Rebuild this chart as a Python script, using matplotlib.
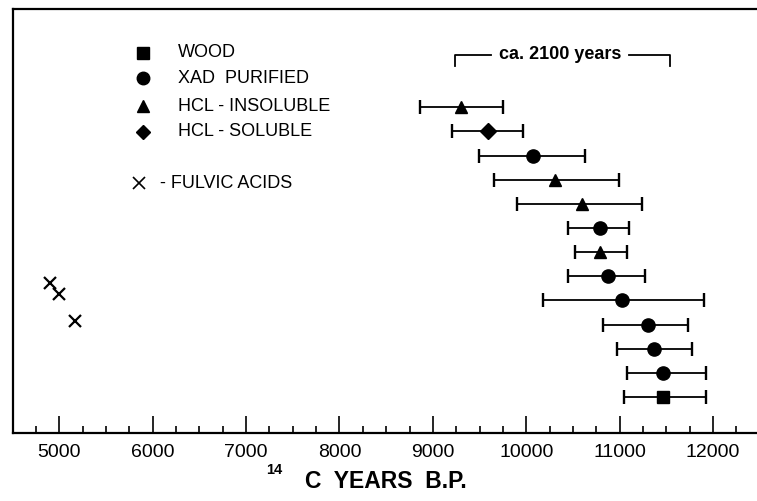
import matplotlib
matplotlib.use("Agg")
import matplotlib.pyplot as plt
from matplotlib.ticker import MultipleLocator

plt.rcParams['font.family'] = ['Liberation Sans', 'DejaVu Sans']

# samples from bottom (row 1) to top (row 13)
rows = list(range(1, 14))
ages = [11460, 11460, 11370, 11300, 11020, 10870, 10790, 10790, 10600, 10310, 10070, 9590, 9300]
age_lo = [11050, 11075, 10975, 10825, 10175, 10450, 10520, 10450, 9900, 9650, 9495, 9200, 8860]
age_hi = [11920, 11920, 11775, 11735, 11905, 11275, 11075, 11105, 11240, 10995, 10630, 9960, 9750]
kinds = ['wood', 'xad', 'xad', 'xad', 'xad', 'xad', 'ins', 'xad', 'ins', 'ins', 'xad', 'sol', 'ins']

# fulvic acids
fulvic_ages = [4900, 5000, 5170]
fulvic_rows = [5.73, 5.25, 4.16]

legend_names = ['WOOD', 'XAD  PURIFIED', 'HCL - INSOLUBLE', 'HCL - SOLUBLE']
legend_kinds = ['wood', 'xad', 'ins', 'sol']
markers = {'wood': ('s', 9), 'xad': ('o', 9.5), 'ins': ('^', 8.5), 'sol': ('D', 8)}

fig = plt.figure(figsize=(7.57, 5.01), dpi=100)
ax = fig.add_axes([12.5 / 757, 68 / 501, 1 - 12.5 / 757, (433 - 9) / 501])

for r, a, lo, hi, k in zip(rows, ages, age_lo, age_hi, kinds):
    m, ms = markers[k]
    ax.errorbar(a, r, xerr=[[a - lo], [hi - a]], fmt=m, color='black', ms=ms,
                ecolor='black', elinewidth=1.3, capsize=5, capthick=1.7)

ax.plot(fulvic_ages, fulvic_rows, 'x', color='black', ms=9, mew=1.6)

# legend drawn by hand
leg_y = [15.26, 14.2, 13.05, 11.99]
for y, name, k in zip(leg_y, legend_names, legend_kinds):
    m, ms = markers[k]
    ax.plot(5900, y, m, color='black', ms=ms - 0.5, clip_on=False)
    ax.text(6270, y, name, fontsize=13, va='center', ha='left')
ax.plot(5853, 9.85, 'x', color='black', ms=8, mew=1.2)
ax.text(6078, 9.85, '- FULVIC ACIDS', fontsize=13, va='center', ha='left')

# bracket
ax.plot([9236, 9236, 9620], [14.71, 15.17, 15.17], color='black', lw=1.3)
ax.plot([11100, 11538, 11538], [15.17, 15.17, 14.71], color='black', lw=1.3)
ax.text(10362, 15.17, 'ca. 2100 years', fontsize=13, fontweight='bold',
        ha='center', va='center')

ax.set_xlim(4500, 12470)
ax.set_ylim(-0.49, 17.07)
ax.xaxis.set_major_locator(MultipleLocator(1000))
ax.xaxis.set_minor_locator(MultipleLocator(250))
ax.tick_params(axis='x', which='major', direction='in', length=12, width=1.2,
               labelsize=14, pad=8)
ax.tick_params(axis='x', which='minor', direction='in', length=5, width=1.2)
ax.set_yticks([])
ax.spines['right'].set_visible(False)
for s in ['left', 'bottom', 'top']:
    ax.spines[s].set_linewidth(1.6)

fig.text(386 / 757, 1 - 482 / 501, 'C  YEARS  B.P.', fontsize=16.5, fontweight='bold',
         ha='center', va='center')
fig.text(274 / 757, 1 - 470 / 501, '14', fontsize=10.5, fontweight='bold',
         ha='center', va='center')

fig.savefig('out.png', dpi=100)
